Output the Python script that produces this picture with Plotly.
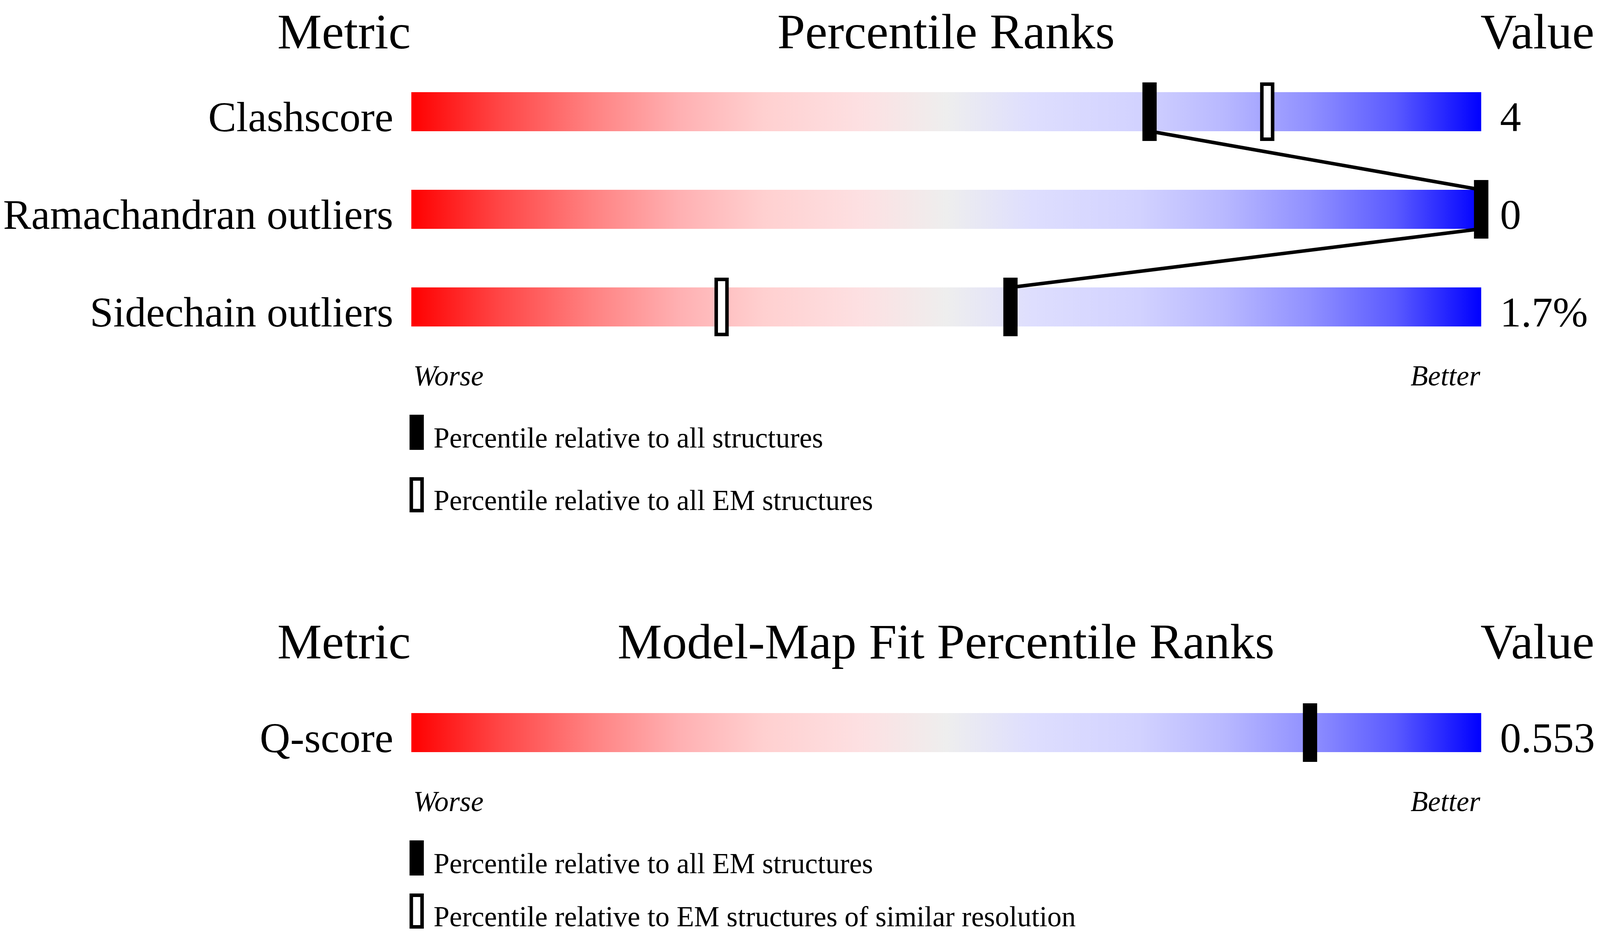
import plotly.graph_objects as go

# --- data ---
metrics_geo = ["Clashscore", "Ramachandran outliers", "Sidechain outliers"]
pct_all_geo = [69, 100, 56]          # percentile relative to all structures
pct_em_geo = [80, 100, 29]           # percentile relative to all EM structures
values_geo = ["4", "0", "1.7%"]

metrics_fit = ["Q-score"]
pct_em_fit = [84]                    # percentile relative to all EM structures
pct_res_fit = [None]                 # relative to EM structures of similar resolution
values_fit = ["0.553"]

legend_geo = ["Percentile relative to all structures",
              "Percentile relative to all EM structures"]
legend_fit = ["Percentile relative to all EM structures",
              "Percentile relative to EM structures of similar resolution"]

# red -> grey -> blue slider
GRAD = [[0.0, "#ff0000"], [0.08, "#ff4444"], [0.17, "#ff8282"], [0.25, "#ffb0b2"],
        [0.33, "#ffd0d0"], [0.42, "#fde0e2"], [0.5, "#eeeeee"], [0.58, "#dedefe"],
        [0.68, "#d2d2ff"], [0.76, "#b8b8ff"], [0.84, "#9090ff"], [0.92, "#5a5aff"],
        [1.0, "#0000ff"]]

# page is shot in a 4096x2402 viewport, body keeps its 8px margin
VW, VH = 4096, 2402
FW, FH = VW - 16, VH - 16
SX = VW / 4485.0                     # reference layout was measured on 4485 px


def fx(X):
    return X * SX - 8


def fy(Y):
    return Y - 8


BAR_L, BAR_R = fx(1153), fx(4152)
PX = (BAR_R - BAR_L) / 100.0
BAR_H = 100
FONT = "Liberation Serif"
F_HEAD, F_LAB, F_SMALL = 128, 108, 73
HALF = 20 * SX                        # half width of a rank marker

geo_tops = [236, 486, 736]
fit_tops = [1826]


def base(b, size):
    # annotation centre y for a wanted text baseline
    return b - 0.34 * size


fig = go.Figure()
shapes = []
ann = []


def text(x, y, s, size, xanchor, xshift=0, italic=False):
    ann.append(dict(x=x, y=y, xref="x", yref="y", text=s, showarrow=False,
                    xanchor=xanchor, yanchor="middle", xshift=xshift,
                    font=dict(family=FONT, size=size, color="black",
                              style="italic" if italic else "normal")))


def marker(v, top, hollow=False):
    if v is None:
        return
    if hollow:
        shapes.append(dict(type="rect", xref="x", yref="y", xsizemode="pixel", xanchor=v,
                           x0=-HALF + 4.5, x1=HALF - 4.5, y0=top - 20.5, y1=top + BAR_H + 20.5,
                           fillcolor="white", line=dict(color="black", width=9), layer="above"))
    else:
        shapes.append(dict(type="rect", xref="x", yref="y", xsizemode="pixel", xanchor=v,
                           x0=-HALF, x1=HALF, y0=top - 25, y1=top + BAR_H + 25,
                           fillcolor="black", line=dict(width=0), layer="above"))


def panel(title, metrics, tops, first, second, values, legend, links,
          head_drop=0, legend_gap=160):
    tops = [fy(t) for t in tops]
    head = base(tops[0] - 139 + head_drop, F_HEAD)
    text(0, head, "Metric", F_HEAD, "right")
    text(50, head, title, F_HEAD, "center")
    text(100, head, "Value", F_HEAD, "left", xshift=-4)
    for name, top, val in zip(metrics, tops, values):
        fig.add_trace(go.Scatter(x=[0, 100, 100, 0, 0],
                                 y=[top, top, top + BAR_H, top + BAR_H, top],
                                 mode="none", fill="toself",
                                 fillgradient=dict(type="horizontal", colorscale=GRAD),
                                 hoverinfo="skip", showlegend=False))
        text(0, base(top + BAR_H, F_LAB), name, F_LAB, "right", xshift=-44)
        text(100, base(top + BAR_H, F_LAB), val, F_LAB, "left", xshift=46)
    if links:
        lx, ly = [], []
        for v, top in zip(first, tops):
            lx += [v, v]
            ly += [top, top + BAR_H]
        fig.add_trace(go.Scatter(x=lx[1:-1], y=ly[1:-1], mode="lines",
                                 line=dict(color="black", width=9),
                                 hoverinfo="skip", showlegend=False))
    for v2, top in zip(second, tops):
        marker(v2, top, hollow=True)
    for v1, top in zip(first, tops):
        marker(v1, top)
    bottom = tops[-1] + BAR_H
    text(0, base(bottom + 151, F_SMALL), "Worse", F_SMALL, "left", xshift=3, italic=True)
    text(100, base(bottom + 151, F_SMALL), "Better", F_SMALL, "right", italic=True)
    for i, lab in enumerate(legend):
        ltop = bottom + 226 + legend_gap * i
        if i == 0:
            shapes.append(dict(type="rect", xref="x", yref="y", xsizemode="pixel", xanchor=0,
                               x0=-5 * SX, x1=35 * SX, y0=ltop, y1=ltop + 90,
                               fillcolor="black", line=dict(width=0)))
        else:
            shapes.append(dict(type="rect", xref="x", yref="y", xsizemode="pixel", xanchor=0,
                               x0=-5 * SX + 4.5, x1=35 * SX - 4.5, y0=ltop + 4.5, y1=ltop + 85.5,
                               fillcolor="white", line=dict(color="black", width=9)))
        text(0, base(ltop + 84, F_SMALL), lab, F_SMALL, "left", xshift=55)


# top header sits a little lower and the last legend row a little higher
# so that every text box stays inside the page
panel("Percentile Ranks", metrics_geo, geo_tops, pct_all_geo, pct_em_geo,
      values_geo, legend_geo, links=True, head_drop=28)
panel("Model-Map Fit Percentile Ranks", metrics_fit, fit_tops, pct_em_fit, pct_res_fit,
      values_fit, legend_fit, links=False, legend_gap=136)

fig.update_layout(
    width=FW, height=FH,
    margin=dict(l=0, r=0, t=0, b=0),
    paper_bgcolor="white", plot_bgcolor="white",
    xaxis=dict(range=[-BAR_L / PX, 100 + (FW - BAR_R) / PX], visible=False, fixedrange=True),
    yaxis=dict(range=[FH, 0], visible=False, fixedrange=True),
    shapes=shapes, annotations=ann,
    showlegend=False,
)

fig.write_html("out.html")
